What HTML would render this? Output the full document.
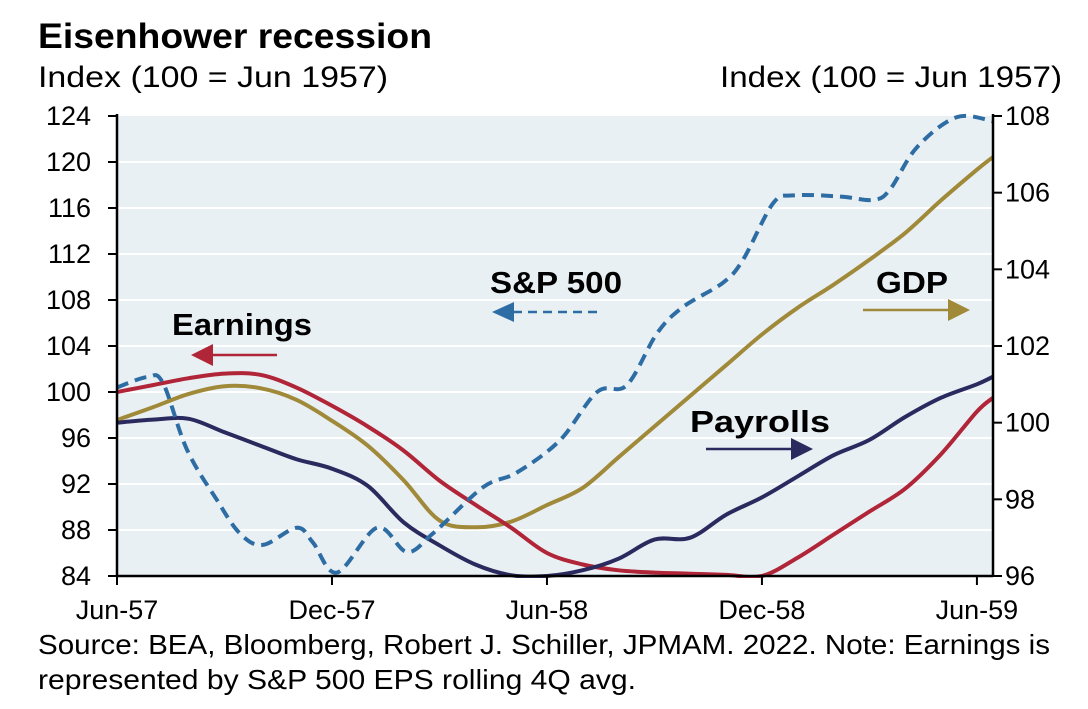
<!DOCTYPE html>
<html><head><meta charset="utf-8"><style>
body{margin:0;background:#fff;width:1088px;height:704px;overflow:hidden;font-family:"Liberation Sans",Arial,sans-serif}
svg text{font-family:"Liberation Sans",Arial,sans-serif}
</style></head><body>
<svg id="chart" width="1088" height="704" viewBox="0 0 1088 704" xmlns="http://www.w3.org/2000/svg">
<defs><clipPath id="plotclip"><rect x="117" y="110" width="876" height="468"/></clipPath></defs>
<text x="38" y="48" font-size="35" font-weight="bold" textLength="394" lengthAdjust="spacingAndGlyphs">Eisenhower recession</text>
<text x="38" y="87" font-size="30" textLength="350" lengthAdjust="spacingAndGlyphs">Index (100 = Jun 1957)</text>
<text x="720" y="87" font-size="30" textLength="342" lengthAdjust="spacingAndGlyphs">Index (100 = Jun 1957)</text>
<rect x="117" y="116" width="876" height="460" fill="#e9f0f4"/>
<g id="grid"></g>
<g id="series" clip-path="url(#plotclip)"></g>
<g id="axes"></g>
<g>
<text x="556" y="293" font-size="31" font-weight="bold" text-anchor="middle" textLength="132" lengthAdjust="spacingAndGlyphs">S&amp;P 500</text>
<line x1="597" y1="312" x2="510" y2="312" stroke="#2e6da4" stroke-width="2.5" stroke-dasharray="9 6"/>
<polygon points="492,312 514,302 514,322" fill="#2e6da4"/>
</g>
<g>
<text x="172" y="335" font-size="31" font-weight="bold" textLength="140" lengthAdjust="spacingAndGlyphs">Earnings</text>
<line x1="277" y1="355" x2="205" y2="355" stroke="#b02537" stroke-width="2.5"/>
<polygon points="191,355 213,344 213,366" fill="#b02537"/>
</g>
<g>
<text x="912" y="293" font-size="31" font-weight="bold" text-anchor="middle" textLength="72" lengthAdjust="spacingAndGlyphs">GDP</text>
<line x1="863" y1="310" x2="955" y2="310" stroke="#a08a3a" stroke-width="2.5"/>
<polygon points="970,310 948,299 948,321" fill="#a08a3a"/>
</g>
<g>
<text x="690" y="432" font-size="31" font-weight="bold" textLength="140" lengthAdjust="spacingAndGlyphs">Payrolls</text>
<line x1="706" y1="449" x2="798" y2="449" stroke="#2a2a5e" stroke-width="2.5"/>
<polygon points="813,449 791,438 791,460" fill="#2a2a5e"/>
</g>
<text font-size="28"><tspan x="38" y="654" textLength="1012" lengthAdjust="spacingAndGlyphs">Source: BEA, Bloomberg, Robert J. Schiller, JPMAM. 2022. Note: Earnings is</tspan><tspan x="38" y="689" textLength="598" lengthAdjust="spacingAndGlyphs">represented by S&amp;P 500 EPS rolling 4Q avg.</tspan></text>
</svg>
<script>
const monthIdx=[0,1,2,3,4,5,6,7,8,9,10,11,12,13,14,15,16,17,18,19,20,21,22,23,24,24.45];
const earnings=[100,100.6,101.2,101.6,101.5,100.4,98.8,97.0,94.9,92.3,90.2,88.2,86.0,85.0,84.5,84.3,84.2,84.1,84.0,85.6,87.6,89.6,91.6,94.6,98.3,99.5];
const payrolls=[100.0,100.08,100.1,99.75,99.4,99.05,98.8,98.35,97.4,96.8,96.3,96.02,96.0,96.15,96.45,96.95,97.0,97.6,98.05,98.6,99.15,99.55,100.15,100.65,101.0,101.2];
const gdp=[100.07,100.4,100.75,100.95,100.9,100.6,100.05,99.4,98.5,97.45,97.27,97.42,97.85,98.3,99.1,99.9,100.7,101.5,102.3,103.0,103.6,104.25,104.95,105.8,106.6,106.93];
const spMonths=[0,0.84,1.28,1.95,2.79,3.43,4.07,5.02,5.47,6.14,7.26,8.09,8.82,10.21,11.16,12.36,13.4,14.23,15.07,15.8,16.91,17.47,18.31,18.87,20.18,21.1,21.57,22.33,23.44,24.5];
const sp500=[100.4,101.3,100.8,95,90.6,87.7,86.7,88.2,86.9,84.3,88.2,86.1,87.7,91.7,93,95.8,100,100.6,105.1,107.4,109.5,111.5,116.4,117.1,117,116.7,117.6,121.3,123.9,123.5];
const leftTicks=[84,88,92,96,100,104,108,112,116,120,124];
const rightTicks=[96,98,100,102,104,106,108];
const xTickMonths=[0,6,12,18,24];
const xTickLabels=["Jun-57","Dec-57","Jun-58","Dec-58","Jun-59"];

const X0=117,X1=993,Y0=116,Y1=576,PX=35.83;
const xs=m=>X0+m*PX;
const yL=v=>Y1-(v-84)/(124-84)*(Y1-Y0);
const yR=v=>Y1-(v-96)/(108-96)*(Y1-Y0);
const NS="http://www.w3.org/2000/svg";
function mk(tag,attrs,parent){const e=document.createElementNS(NS,tag);for(const k in attrs)e.setAttribute(k,attrs[k]);parent.appendChild(e);return e;}
function smooth(pts){let d="M"+pts[0][0].toFixed(1)+","+pts[0][1].toFixed(1);
 for(let i=0;i<pts.length-1;i++){const p0=pts[Math.max(0,i-1)],p1=pts[i],p2=pts[i+1],p3=pts[Math.min(pts.length-1,i+2)];
 const c1=[p1[0]+(p2[0]-p0[0])/6,p1[1]+(p2[1]-p0[1])/6],c2=[p2[0]-(p3[0]-p1[0])/6,p2[1]-(p3[1]-p1[1])/6];
 d+="C"+c1[0].toFixed(1)+","+c1[1].toFixed(1)+" "+c2[0].toFixed(1)+","+c2[1].toFixed(1)+" "+p2[0].toFixed(1)+","+p2[1].toFixed(1);}
 return d;}
const grid=document.getElementById('grid'),axes=document.getElementById('axes'),series=document.getElementById('series');
leftTicks.forEach(v=>{
 if(v>84&&v<124){const g=mk('line',{x1:X0,x2:X1,y1:yL(v),y2:yL(v),stroke:'#fff','stroke-width':2},grid);
 
 }
 const t=mk('line',{x1:X0-9,x2:X0,y1:yL(v),y2:yL(v),stroke:'#000','stroke-width':2},axes);
 
 
 const l=mk('text',{x:91,y:yL(v)+9,'font-size':27,'text-anchor':'end'},axes);l.textContent=v;
 
 
});
rightTicks.forEach(v=>{
 const t=mk('line',{x1:X1,x2:X1+9,y1:yR(v),y2:yR(v),stroke:'#000','stroke-width':2},axes);
 
 
 const l=mk('text',{x:1005,y:yR(v)+9,'font-size':27},axes);l.textContent=v;
 
 
});
xTickMonths.forEach((m,i)=>{
 const t=mk('line',{x1:xs(m),x2:xs(m),y1:Y1,y2:Y1+9,stroke:'#000','stroke-width':2},axes);
 
 
 const l=mk('text',{x:xs(m),y:619,'font-size':27,'text-anchor':'middle'},axes);l.textContent=xTickLabels[i];
 
 
});
const la=mk('line',{x1:X0,x2:X0,y1:Y0-2,y2:Y1+1,stroke:'#000','stroke-width':2.5},axes);


const ra=mk('line',{x1:X1,x2:X1,y1:Y0-2,y2:Y1+1,stroke:'#000','stroke-width':2.5},axes);


const ba=mk('line',{x1:X0,x2:X1,y1:Y1,y2:Y1,stroke:'#000','stroke-width':2.5},axes);



const pg=mk('path',{d:smooth(monthIdx.map((m,i)=>[xs(m),yR(gdp[i])])),fill:'none',stroke:'#a08a3a','stroke-width':4},series);


const pe=mk('path',{d:smooth(monthIdx.map((m,i)=>[xs(m),yL(earnings[i])])),fill:'none',stroke:'#b02537','stroke-width':4},series);


const pp=mk('path',{d:smooth(monthIdx.map((m,i)=>[xs(m),yR(payrolls[i])])),fill:'none',stroke:'#2a2a5e','stroke-width':4},series);


const ps=mk('path',{d:smooth(spMonths.map((m,i)=>[xs(m),yL(sp500[i])])),fill:'none',stroke:'#2e6da4','stroke-width':4,'stroke-dasharray':'12 7'},series);


</script>
</body></html>
